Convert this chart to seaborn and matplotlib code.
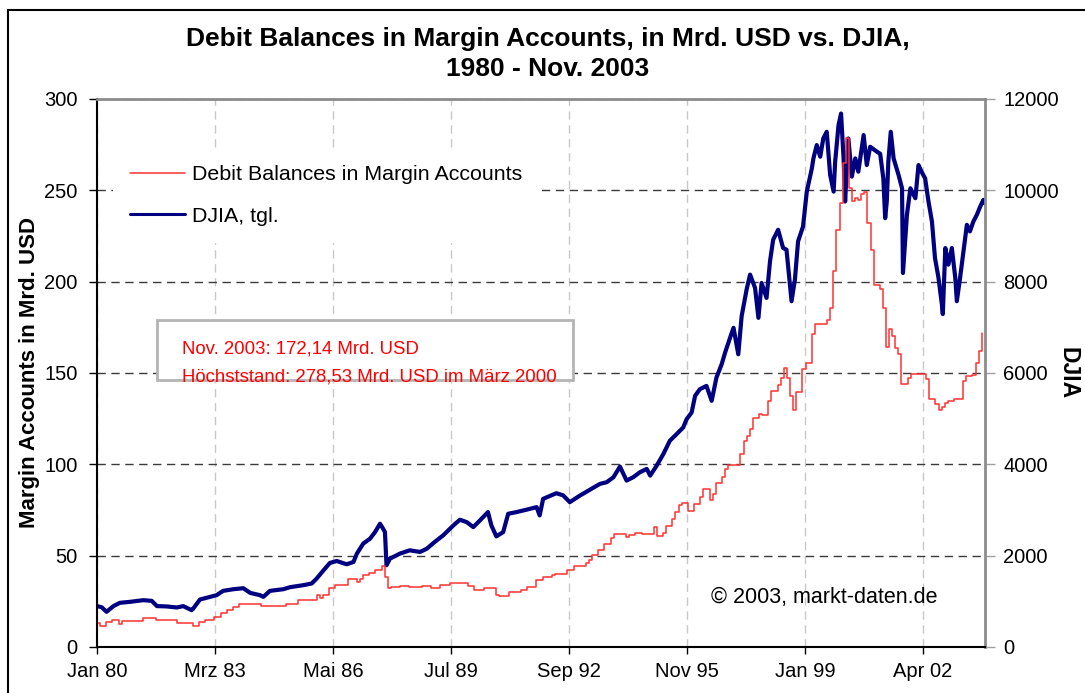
import numpy as np
import pandas as pd
import matplotlib
matplotlib.use('Agg')
import matplotlib.pyplot as plt
import seaborn as sns
from matplotlib.lines import Line2D
from matplotlib.patches import Rectangle

# margin debt, monthly values (only the months where the step changes), Mrd. USD
margin_month = ['1980-01', '1980-02', '1980-04', '1980-06', '1980-08', '1980-09', '1981-04', '1981-08',
                '1982-03', '1982-08', '1982-10', '1982-12', '1983-03', '1983-05', '1983-07', '1983-09',
                '1983-11', '1984-06', '1985-02', '1985-06', '1985-12', '1986-01', '1986-02', '1986-04',
                '1986-06', '1986-10', '1987-01', '1987-02', '1987-03', '1987-05', '1987-07', '1987-09',
                '1987-10', '1987-11', '1987-12', '1988-03', '1988-06', '1988-10', '1989-01', '1989-04',
                '1989-07', '1990-01', '1990-03', '1990-06', '1990-10', '1990-11', '1991-02', '1991-06',
                '1991-08', '1991-11', '1992-01', '1992-04', '1992-05', '1992-09', '1992-11', '1993-03',
                '1993-04', '1993-05', '1993-07', '1993-09', '1993-11', '1993-12', '1994-04', '1994-05',
                '1994-07', '1994-09', '1995-01', '1995-02', '1995-04', '1995-05', '1995-07', '1995-08',
                '1995-09', '1995-10', '1995-12', '1996-02', '1996-04', '1996-05', '1996-07', '1996-08',
                '1996-09', '1996-11', '1996-12', '1997-01', '1997-05', '1997-06', '1997-07', '1997-08',
                '1997-09', '1997-11', '1997-12', '1998-02', '1998-03', '1998-05', '1998-06', '1998-07',
                '1998-08', '1998-09', '1998-10', '1998-11', '1999-01', '1999-02', '1999-04', '1999-05',
                '1999-09', '1999-10', '1999-11', '1999-12', '2000-01', '2000-02', '2000-03', '2000-04',
                '2000-05', '2000-06', '2000-07', '2000-08', '2000-09', '2000-10', '2000-11', '2000-12',
                '2001-02', '2001-03', '2001-04', '2001-05', '2001-06', '2001-07', '2001-08', '2001-09',
                '2001-11', '2001-12', '2002-05', '2002-06', '2002-08', '2002-09', '2002-10', '2002-11',
                '2002-12', '2003-02', '2003-05', '2003-06', '2003-08', '2003-09', '2003-10', '2003-11']
margin_value = [13.1, 11.5, 13.8, 14.7, 12.5, 14.4, 16.0, 14.7,
                13.1, 11.5, 13.5, 14.5, 16.5, 18.5, 20.5, 22.0,
                23.5, 22.4, 23.5, 25.6, 28.4, 26.7, 28.4, 32.2,
                33.8, 37.0, 35.5, 37.0, 39.3, 40.4, 42.0, 44.2,
                38.5, 32.2, 32.7, 33.6, 32.7, 33.2, 32.5, 34.0,
                35.1, 33.3, 31.4, 32.5, 28.3, 27.7, 30.1, 31.0,
                32.9, 36.6, 38.5, 39.4, 39.8, 42.2, 44.1, 45.9,
                47.8, 50.2, 53.0, 56.5, 59.5, 61.6, 60.4, 61.5,
                62.5, 62.0, 65.6, 60.5, 62.6, 66.0, 70.0, 74.0,
                77.5, 79.0, 74.5, 78.0, 82.0, 86.7, 80.7, 83.5,
                90.0, 93.0, 97.5, 99.7, 105.7, 112.9, 115.6, 119.3,
                125.6, 127.8, 126.9, 134.7, 140.2, 143.3, 147.5, 152.9,
                147.5, 137.5, 129.7, 139.8, 152.0, 155.6, 171.5, 176.9,
                178.8, 185.6, 205.7, 228.4, 243.0, 265.0, 278.53, 251.0,
                244.0, 246.0, 244.5, 248.0, 249.3, 232.0, 217.5, 198.4,
                195.7, 185.6, 164.2, 173.9, 170.2, 163.8, 160.2, 143.8,
                147.5, 149.6, 146.6, 135.7, 132.9, 129.7, 131.6, 133.3,
                134.7, 135.7, 145.6, 148.4, 149.0, 155.6, 162.0, 172.14]

# DJIA, x in months since Jan 1980
djia_month = [0, 1.5, 3.1, 5.3, 7.4, 10.7, 15, 17.7, 19.4, 22.5, 25.8, 27.9, 30.6, 31.1, 33.3, 36.5,
              38.7, 40.8, 44.1, 47.3, 49.5, 52.7, 53.8, 55.9, 60.2, 62.4, 66.7, 69.4, 71, 73.2, 75.3,
              77.5, 80.7, 82.9, 84, 86.1, 88.3, 89.9, 91.5, 92.4, 93.1, 93.6, 94.7, 97.9, 101.1, 104.4,
              106.6, 108.7, 111.9, 115.2, 117.3, 119.5, 121.6, 123.8, 126.4, 127.5, 129.1, 131.3, 132.9,
              135.6, 138.8, 142.1, 143.1, 144.2, 148.5, 150.7, 152.8, 156.1, 159.3, 162.6, 164.7, 166.9,
              169, 171.2, 173.3, 175.5, 177.7, 178.8, 180.9, 183.1, 185.2, 187.4, 189.5, 190.6, 192.2,
              193.3, 194.9, 197, 198.7, 200.2, 201.9, 203, 204.6, 205.7, 207.3, 208.4, 210, 211.1, 212.7,
              213.8, 214.8, 216.4, 217.5, 218.6, 220.2, 221.8, 222.9, 224.5, 225.6, 226.6, 228.2, 229.4,
              231.1, 231.6, 232.7, 233.8, 234.8, 235.9, 237, 238.1, 238.6, 239.7, 240.5, 241.3, 241.8,
              242.9, 244, 245.1, 246.1, 247.8, 248.8, 249.9, 252.1, 253.1, 254.2, 254.8, 255.3, 255.8,
              256.6, 257.5, 259.1, 260.2, 260.5, 261.8, 262.9, 264.5, 265.5, 266.6, 267.7, 268.8, 269.9,
              270.9, 272, 273.1, 273.4, 274.2, 275.2, 276.3, 277.4, 277.9, 279, 280.1, 281.2, 282.2,
              283.3, 284.4, 285.5, 286.5, 286.9]
djia_value = [895, 870, 770, 895, 967, 989, 1025, 1010, 895, 888, 865, 895, 807, 840, 1040, 1098,
              1134, 1229, 1265, 1287, 1185, 1134, 1098, 1229, 1265, 1309, 1353, 1390, 1499, 1680, 1840,
              1883, 1811, 1862, 2045, 2263, 2372, 2516, 2699, 2600, 2516, 1789, 1935, 2045, 2117, 2081,
              2153, 2276, 2444, 2662, 2786, 2735, 2625, 2771, 2953, 2662, 2422, 2516, 2917,
              2953, 3005, 3062, 2880, 3244, 3367, 3320, 3171, 3317, 3441, 3572, 3607, 3716,
              3950, 3644, 3716, 3826, 3899, 3753, 3971, 4226, 4517, 4663, 4807, 4990, 5134,
              5500, 5645, 5717, 5390, 5898, 6190, 6444, 6771, 6989, 6409, 7244, 7827, 8154, 7862,
              7207, 7971, 7644, 8445, 8918, 9136, 8735, 8700, 7572, 8045, 8881, 9208, 9972,
              10480, 10698, 10991, 10735, 11135, 11281, 10335, 9972, 10626, 11427, 11681, 10698, 9754,
              11135, 10299, 10698, 10408, 11209, 10553, 10954, 10844, 10800, 10262, 9390, 9754, 10626,
              11281, 10698, 10335, 10044, 8189, 9463, 10044, 9826, 10553, 10400, 10262, 9754, 9317,
              8517, 8080, 7500, 7290, 8735, 8372, 8735, 8080, 7572, 8080, 8663, 9245, 9100,
              9317, 9463, 9645, 9790, 9717]

tick_dates = ['1980-01-01', '1983-03-06', '1986-05-11', '1989-07-15', '1992-09-18',
              '1995-11-22', '1999-01-26', '2002-04-01']
tick_labels = ['Jan 80', 'Mrz 83', 'Mai 86', 'Jul 89', 'Sep 92', 'Nov 95', 'Jan 99', 'Apr 02']

start = pd.Timestamp('1980-01-01')


def month_to_date(m):
    whole = int(m)
    return start + pd.DateOffset(months=whole) + pd.Timedelta(days=(m - whole) * 30.4)


margin_df = pd.DataFrame({'date': pd.to_datetime(margin_month), 'value': margin_value})
djia_df = pd.DataFrame({'date': [month_to_date(m) for m in djia_month], 'value': djia_value})

sns.set_style('white')
plt.rcParams['font.family'] = ['Liberation Sans', 'DejaVu Sans']
plt.rcParams['text.color'] = 'black'
plt.rcParams['axes.labelcolor'] = 'black'
plt.rcParams['xtick.color'] = 'black'
plt.rcParams['ytick.color'] = 'black'

fig = plt.figure(figsize=(10.85, 6.93), dpi=100)
ax = fig.add_axes([0.0894, 0.0664, 0.8184, 0.7908])
ax2 = ax.twinx()
# red line on top of the blue one, like in the original
ax.set_zorder(2)
ax2.set_zorder(1)
ax.patch.set_visible(False)

red = '#ff3030'
navy = '#000080'

sns.lineplot(data=djia_df, x='date', y='value', ax=ax2, color=navy, lw=3.0, estimator=None)
sns.lineplot(data=margin_df, x='date', y='value', ax=ax, color=red, lw=1.1,
             drawstyle='steps-post', estimator=None)

ax.set_xlim(start, pd.Timestamp('2003-12-02'))
ax.set_ylim(0, 300)
ax2.set_ylim(0, 12000)
ax.set_yticks(np.arange(0, 301, 50))
ax2.set_yticks(np.arange(0, 12001, 2000))
ax.set_xticks(pd.to_datetime(tick_dates))
ax.set_xticklabels(tick_labels)

# grid lives on the lower axes so the DJIA line covers it
ax2.xaxis.set_visible(True)
ax2.tick_params(axis='x', length=0, labelbottom=False)
ax2.yaxis.grid(True, color='#3a3a3a', linestyle=(0, (6, 4)), lw=1)
ax2.xaxis.grid(True, color='#c8c8c8', linestyle=(0, (6, 4)), lw=1)

ax.tick_params(axis='y', direction='out', length=6, width=1, color='black', labelsize=14.5, pad=8, left=True)
ax.tick_params(axis='x', direction='out', length=5, width=1, color='black', labelsize=14.5, pad=6, bottom=True)
ax2.tick_params(axis='y', direction='out', length=7, width=1, color='#a0a0a0', labelsize=14.5, pad=6, right=True)

ax.set_xlabel('')
ax2.set_xlabel('')
ax.set_ylabel('Margin Accounts in Mrd. USD', fontsize=16, fontweight='bold')
ax.yaxis.set_label_coords(-0.064, 0.5)
ax2.set_ylabel('DJIA', fontsize=16.5, fontweight='bold', rotation=270, va='center')
ax2.yaxis.set_label_coords(1.093, 0.5)

for s in ['left', 'bottom']:
    ax.spines[s].set_color('black')
    ax.spines[s].set_linewidth(1.5)
for s in ['top', 'right']:
    ax.spines[s].set_color('#8c8c8c')
    ax.spines[s].set_linewidth(2)
for s in ax2.spines.values():
    s.set_visible(False)

handles = [Line2D([], [], color=red, lw=1.1), Line2D([], [], color=navy, lw=2.2)]
leg = ax.legend(handles, ['Debit Balances in Margin Accounts', 'DJIA, tgl.'], loc='upper left',
                bbox_to_anchor=(0.018, 0.91), borderaxespad=0, frameon=True, fontsize=15.4,
                handlelength=2.57, handletextpad=0.33, labelspacing=1.05, borderpad=0.8,
                fancybox=False, facecolor='white', edgecolor='none', framealpha=1)

ax.add_patch(Rectangle((0.0676, 0.487), 0.468, 0.11, transform=ax.transAxes, fc='white',
                       ec='#b4b4b4', lw=2, zorder=5))
ax.text(0.0957, 0.544, 'Nov. 2003: 172,14 Mrd. USD', transform=ax.transAxes, color='red',
        fontsize=13.4, va='center', zorder=6)
ax.text(0.0957, 0.493, 'Höchststand: 278,53 Mrd. USD im März 2000', transform=ax.transAxes,
        color='red', fontsize=13.4, va='center', zorder=6)
ax.text(0.819, 0.091, '© 2003, markt-daten.de', transform=ax.transAxes, fontsize=15.5,
        ha='center', va='center')

fig.text(0.505, 0.944, 'Debit Balances in Margin Accounts, in Mrd. USD vs. DJIA,',
         ha='center', va='center', fontsize=19, fontweight='bold')
fig.text(0.505, 0.900, '1980 - Nov. 2003', ha='center', va='center', fontsize=19, fontweight='bold')

fig.patches.append(Rectangle((0.0074, -0.05), 1.2, 1.0356, transform=fig.transFigure,
                             fill=False, ec='black', lw=1.5))

fig.savefig('out.png', dpi=100)
